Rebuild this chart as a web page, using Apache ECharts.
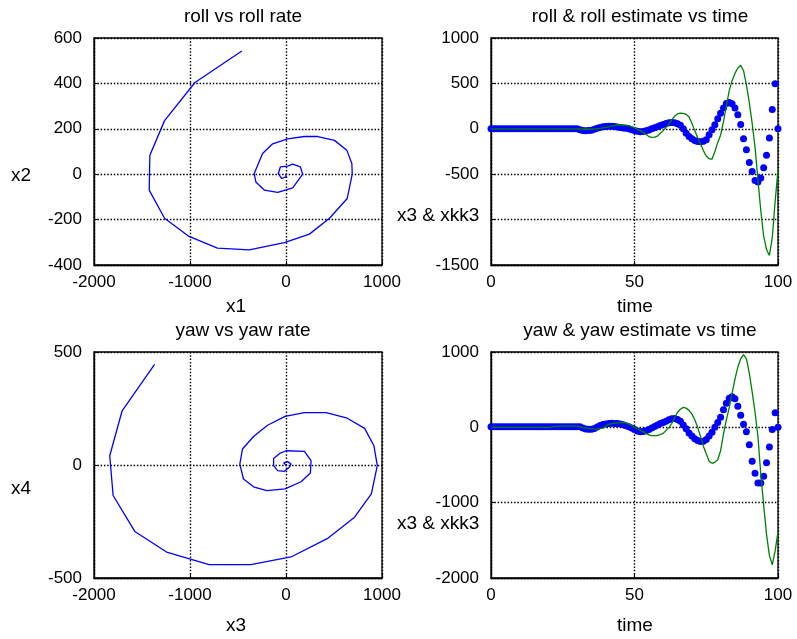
<!DOCTYPE html>
<html><head><meta charset="utf-8">
<script src="https://cdn.jsdelivr.net/npm/echarts@6/dist/echarts.min.js"></script>
<style>html,body{margin:0;padding:0;background:#fff}#c{width:797px;height:639px}</style>
</head><body><div id="c"></div>
<script>
// ---- data ----
// roll (x1) vs roll rate (x2) trajectory, from origin outward
const rollX1 = [0,0,-45,-80,-59,17,70,150,174,70,-87,-226,-314,-331,-244,-139,17,192,331,505,634,686,690,638,453,244,-17,-383,-714,-1010,-1265,-1425,-1418,-1265,-948,-460];
const rollX2 = [0,-12,-19,3,32,36,44,32,0,-60,-80,-70,-34,3,91,134,156,166,166,149,105,47,0,-107,-194,-264,-301,-333,-326,-274,-194,-70,83,236,404,543];
// yaw (x3) vs yaw rate (x4)
const yawX3 = [0,-24,17,52,35,-17,-87,-129,-129,-59,0,192,261,254,157,-10,-199,-331,-443,-481,-453,-338,-192,-10,192,418,638,819,916,951,889,714,429,52,-366,-801,-1244,-1575,-1801,-1836,-1707,-1369];
const yawX4 = [0,9,15,4,-10,-28,-25,-3,29,53,63,60,19,-35,-74,-106,-113,-98,-62,4,71,126,176,215,232,232,207,162,85,-3,-128,-231,-326,-407,-441,-441,-385,-294,-135,41,240,445];

// time samples for the dotted states
const time = [0,1,2,3,4,5,6,7,8,9,10,11,12,13,14,15,16,17,18,19,20,21,22,23,24,25,26,27,28,29,30,31,32,33,34,35,36,37,38,39,40,41,42,43,44,45,46,47,48,49,50,51,52,53,54,55,56,57,58,59,60,61,62,63,64,65,66,67,68,69,70,71,72,73,74,75,76,77,78,79,80,81,82,83,84,85,86,87,88,89,90,91,92,93,94,95,96,97,98,99,100];
// roll state (blue dots)
const rollState = [0,0,0,0,0,0,0,0,0,0, 0,0,0,0,0,0,0,0,0,0, 0,0,0,0,0,0,0,0,0,0, 0,-10,-20,-22,-20,-15,-5,5,15,22, 25,28,28,25,20,15,10,5,0,-10, -20,-28,-33,-30,-22,-12,0,12,22,35, 48,58,66,70,66,55,40,0,-48,-85, -110,-130,-140,-143,-138,-120,-65,-10,45,110, 170,230,278,290,275,230,155,48,-110,-230, -370,-470,-570,-585,-541,-430,-290,-100,213,497, 0];
// roll estimate (green line)
const rollEstT = [0,10,20,30,33,36,38,40,42,44,46,48,50,52,54,55,56,57,58,59,60,61,62,63,64,65,66,67,68,69,70,71,72,73,74,75,76,77,78,79,80,81,82,83,84,85,86,87,88,89,90,91,92,93,94,95,96,97,97.5,98,99,100];
const rollEst = [0,0,0,0,-5,-3,5,15,30,42,42,35,10,-20,-60,-85,-95,-92,-80,-50,-20,15,50,100,140,163,172,170,160,130,60,-20,-95,-165,-240,-300,-330,-335,-250,-150,-70,80,250,420,530,610,670,698,640,480,290,60,-200,-560,-900,-1180,-1330,-1395,-1380,-1200,-800,-450];
// yaw state (blue dots)
const yawState = [8,8,8,8,8,8,8,8,8,8, 8,8,8,8,8,8,8,8,8,8, 8,8,8,8,8,8,8,8,8,8, 8,8,-10,-22,-27,-25,-15,5,25,38, 45,50,53,52,50,45,35,22,8,-10, -30,-48,-58,-55,-45,-30,-10,10,30,50, 65,80,100,115,118,105,80,30,-20,-75, -115,-150,-175,-188,-185,-160,-115,-65,0,65, 135,235,320,385,405,380,280,160,40,-60, -230,-450,-610,-740,-740,-650,-470,-260,-30,194, 0];
// yaw estimate (green line)
const yawEstT = [0,10,20,23,27,30,32,35,37,39,41,43,45,47,49,51,53,55,56,58,60,62,63,64,65,66,67,68,69,70,71,72,73,74,75,76,77,78,79,80,81,82,83,84,85,86,87,88,88.5,89,90,91,92,93,94,95,96,97,98,98.5,99,100];
const yawEst = [0,0,0,15,17,15,-5,-20,-25,-10,40,55,66,58,25,-20,-58,-100,-111,-111,-80,0,53,130,200,240,265,255,225,175,100,0,-120,-250,-350,-450,-478,-465,-430,-310,-90,100,260,450,640,800,910,965,970,910,720,470,200,-120,-620,-1030,-1420,-1700,-1825,-1800,-1640,-1386];

// axis ticks
const phaseXTicks = [-2000,-1000,0,1000];
const rollRateTicks = [-400,-200,0,200,400,600];
const yawRateTicks = [-500,0,500];
const timeTicks = [0,50,100];
const rollTimeYTicks = [-1500,-1000,-500,0,500,1000];
const yawTimeYTicks = [-2000,-1000,0,1000];

const pairs = (a, b) => a.map((v, i) => [v, b[i]]);
const FONT = 'Liberation Sans, Arial, sans-serif';
const FS = 17;   // tick labels
const FL = 19;   // titles and axis labels

const gridLine = { show: true, lineStyle: { color: '#000', type: [1.5, 1.8], width: 1.4 } };
function xAx(i, ticks) {
  return { gridIndex: i, type: 'value', min: ticks[0], max: ticks[ticks.length - 1],
    interval: ticks[1] - ticks[0],
    axisLine: { show: true, onZero: false, lineStyle: { color: '#000', width: 1.3 } },
    axisTick: { show: true, inside: true, length: 4, lineStyle: { color: '#000' } },
    axisLabel: { color: '#000', fontSize: FS, fontFamily: FONT, margin: 9, formatter: v => String(v) },
    splitLine: gridLine };
}
function yAx(i, ticks) {
  return { gridIndex: i, type: 'value', min: ticks[0], max: ticks[ticks.length - 1],
    interval: ticks[1] - ticks[0],
    axisLine: { show: true, onZero: false, lineStyle: { color: '#000', width: 1.3 } },
    axisTick: { show: true, inside: true, length: 4, lineStyle: { color: '#000' } },
    axisLabel: { color: '#000', fontSize: FS, fontFamily: FONT, margin: 12, formatter: v => String(v) },
    splitLine: gridLine };
}
const gridBase = { show: true, borderColor: '#000', borderWidth: 1.3, containLabel: false };
const chart = echarts.init(document.getElementById('c'), null, { renderer: 'canvas' });
const titleStyle = { color: '#000', fontSize: FL, fontWeight: 'normal', fontFamily: FONT };
const txt = (x, y, s, bg) => ({ type: 'text', left: x, top: y, z: 100,
  style: { text: s, fill: '#000', font: FL + 'px ' + FONT,
    backgroundColor: bg ? '#fff' : 'transparent' } });

chart.setOption({
  animation: false,
  backgroundColor: '#fff',
  title: [
    { text: 'roll vs roll rate', left: 238, top: 2, textAlign: 'center', textStyle: titleStyle },
    { text: 'roll & roll estimate vs time', left: 635, top: 2, textAlign: 'center', textStyle: titleStyle },
    { text: 'yaw vs yaw rate', left: 238, top: 316, textAlign: 'center', textStyle: titleStyle },
    { text: 'yaw & yaw estimate vs time', left: 635, top: 316, textAlign: 'center', textStyle: titleStyle }
  ],
  grid: [
    Object.assign({ left: 94, top: 38, width: 288, height: 227 }, gridBase),
    Object.assign({ left: 491, top: 38, width: 287, height: 227 }, gridBase),
    Object.assign({ left: 94, top: 352, width: 288, height: 226 }, gridBase),
    Object.assign({ left: 491, top: 352, width: 287, height: 226 }, gridBase)
  ],
  xAxis: [xAx(0, phaseXTicks), xAx(1, timeTicks), xAx(2, phaseXTicks), xAx(3, timeTicks)],
  yAxis: [yAx(0, rollRateTicks), yAx(1, rollTimeYTicks), yAx(2, yawRateTicks), yAx(3, yawTimeYTicks)],
  graphic: [
    txt(226, 297, 'x1'), txt(617, 297, 'time'),
    txt(226, 616, 'x3'), txt(617, 616, 'time'),
    txt(11, 166, 'x2'), txt(11, 479, 'x4'),
    txt(397, 206, 'x3 & xkk3', true), txt(397, 514, 'x3 & xkk3', true)
  ],
  series: [
    { type: 'line', xAxisIndex: 0, yAxisIndex: 0, data: pairs(rollX1, rollX2), showSymbol: false,
      lineStyle: { color: '#0000ff', width: 1.3 }, clip: true },
    { type: 'scatter', xAxisIndex: 1, yAxisIndex: 1, data: pairs(time, rollState), symbolSize: 7,
      itemStyle: { color: '#0000ff', opacity: 1 }, z: 2 },
    { type: 'line', xAxisIndex: 1, yAxisIndex: 1, data: pairs(rollEstT, rollEst), showSymbol: false,
      lineStyle: { color: '#008000', width: 1.3 }, z: 3, clip: true },
    { type: 'line', xAxisIndex: 2, yAxisIndex: 2, data: pairs(yawX3, yawX4), showSymbol: false,
      lineStyle: { color: '#0000ff', width: 1.3 }, clip: true },
    { type: 'scatter', xAxisIndex: 3, yAxisIndex: 3, data: pairs(time, yawState), symbolSize: 7,
      itemStyle: { color: '#0000ff', opacity: 1 }, z: 2 },
    { type: 'line', xAxisIndex: 3, yAxisIndex: 3, data: pairs(yawEstT, yawEst), showSymbol: false,
      lineStyle: { color: '#008000', width: 1.3 }, z: 3, clip: true }
  ]
});
</script></body></html>
